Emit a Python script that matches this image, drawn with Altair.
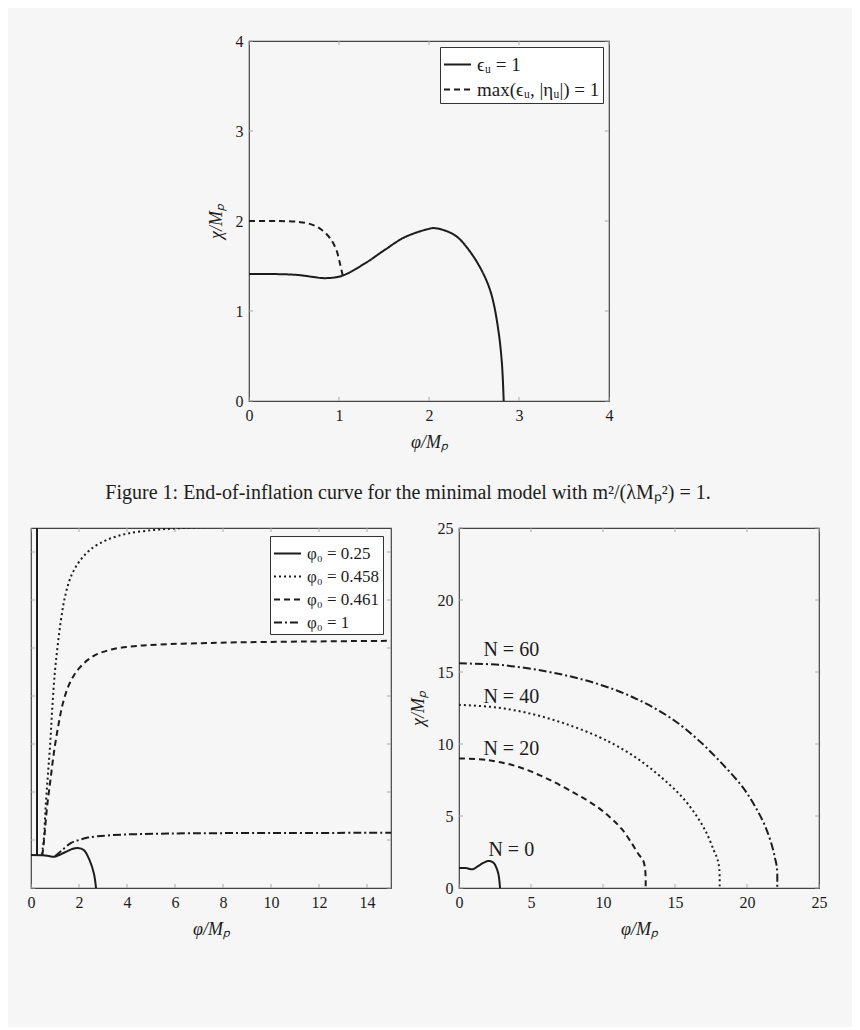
import altair as alt
import pandas as pd

FONT = "Liberation Serif"
INK = "#1c1c1c"
TICK = "#a8a8a8"
BG = "#f6f6f6"
TL = 4

# ---------------- data: top panel (minimal model) ----------------
top_ticks = [0, 1, 2, 3, 4]
top_names = ["ϵᵤ = 1", "max(ϵᵤ, |ηᵤ|) = 1"]
top_eps_phi = [0, 0.3, 0.55, 0.7, 0.84, 1.03, 1.29, 1.51, 1.73, 1.99, 2.07, 2.29, 2.47, 2.62, 2.70, 2.77, 2.81, 2.83]
top_eps_chi = [1.41, 1.41, 1.40, 1.38, 1.365, 1.39, 1.53, 1.68, 1.82, 1.91, 1.92, 1.84, 1.64, 1.38, 1.16, 0.79, 0.42, 0.0]
top_eta_phi = [0, 0.3, 0.55, 0.70, 0.81, 0.90, 0.97, 1.01, 1.04]
top_eta_chi = [2.0, 2.0, 1.99, 1.96, 1.90, 1.81, 1.68, 1.53, 1.40]

# ---------------- data: bottom-left panel (trajectories) ----------------
bl_ticks = [0, 2, 4, 6, 8, 10, 12, 14]
bl_names = ["φ₀ = 0.25", "φ₀ = 0.458", "φ₀ = 0.461", "φ₀ = 1"]
bl_a_phi = [0.25, 0.25]
bl_a_chi = [1.37, 15.5]
bl_b_phi = [0.45, 0.53, 0.61, 0.71, 0.81, 0.89, 0.99, 1.10, 1.25, 1.42, 1.67, 2.02, 2.51, 3.2, 4.04, 5.15, 6.0, 7.0, 8.0]
bl_b_chi = [1.40, 1.99, 3.38, 4.78, 6.17, 7.56, 8.95, 10.0, 11.18, 12.15, 12.99, 13.61, 14.13, 14.52, 14.77, 14.92, 14.98, 15.03, 15.06]
bl_c_phi = [0.47, 0.50, 0.57, 0.67, 0.81, 0.95, 1.13, 1.34, 1.62, 2.0, 2.6, 3.4, 4.46, 5.71, 7.1, 8.21, 11.5, 15.0]
bl_c_chi = [1.37, 1.57, 2.27, 3.38, 4.5, 5.61, 6.72, 7.74, 8.55, 9.15, 9.66, 9.95, 10.09, 10.16, 10.2, 10.23, 10.27, 10.3]
bl_d_phi = [1.0, 1.3, 1.67, 2.0, 2.37, 3.34, 5.7, 10.0, 15.0]
bl_d_chi = [1.32, 1.58, 1.88, 2.0, 2.10, 2.2, 2.27, 2.29, 2.3]
bl_end_phi = [0, 0.5, 0.75, 0.98, 1.4, 1.7, 1.95, 2.2, 2.44, 2.62, 2.71]
bl_end_chi = [1.37, 1.36, 1.33, 1.30, 1.48, 1.62, 1.67, 1.58, 1.16, 0.6, 0.0]

# ---------------- data: bottom-right panel (N e-folds) ----------------
br_ticks = [0, 5, 10, 15, 20, 25]
br_names = ["N = 0", "N = 20", "N = 40", "N = 60"]
br_n0_phi = [0, 0.5, 0.93, 1.3, 1.7, 2.08, 2.4, 2.6, 2.75, 2.85]
br_n0_chi = [1.39, 1.38, 1.30, 1.5, 1.75, 1.88, 1.75, 1.4, 0.9, 0.0]
br_n20_phi = [0, 2, 4, 6, 8, 9.5, 10.5, 11.3, 12.0, 12.5, 12.75, 12.9, 12.96, 12.96]
br_n20_chi = [9.0, 8.88, 8.45, 7.65, 6.6, 5.7, 4.9, 4.1, 3.1, 2.3, 2.0, 1.5, 0.8, 0.0]
br_n40_phi = [0, 2.5, 5, 7.4, 9.7, 11.0, 12.3, 13.5, 14.6, 15.6, 16.5, 17.2, 17.7, 17.95, 18.08, 18.1]
br_n40_chi = [12.72, 12.55, 12.1, 11.4, 10.5, 9.85, 9.05, 8.15, 7.2, 6.2, 5.0, 3.8, 2.6, 2.0, 1.3, 0.0]
br_n60_phi = [0, 3, 6, 8.5, 11, 13, 15, 16.7, 18.3, 19.7, 20.6, 21.3, 21.76, 21.95, 22.08, 22.1]
br_n60_chi = [15.6, 15.48, 15.05, 14.5, 13.7, 12.8, 11.6, 10.2, 8.6, 7.0, 5.6, 4.2, 2.85, 2.05, 1.4, 0.0]
br_label_text = ["N = 60", "N = 40", "N = 20", "N = 0"]
br_label_phi = [3.63, 3.63, 3.63, 3.63]
br_label_chi = [16.5, 13.26, 9.68, 2.66]

caption = "Figure 1: End-of-inflation curve for the minimal model with m²/(λMₚ²) = 1."

SOLID = [1, 0]
DOTTED = [2, 3]
DASHED = [6, 4]
DASHDOT = [8, 3, 2, 3]


def line_df(names, phis, chis):
    rows = []
    for n, xs_, ys_ in zip(names, phis, chis):
        for i, (a, b) in enumerate(zip(xs_, ys_)):
            rows.append({"series": n, "i": i, "phi": a, "chi": b})
    return pd.DataFrame(rows)


def make_axis(title, ticks, labels=True):
    return alt.Axis(values=ticks, title=title, ticks=False, domain=False, grid=False,
                    labels=labels, labelFont=FONT, labelFontSize=16, labelColor=INK,
                    labelPadding=6, labelFlush=False, labelOverlap=False,
                    titleFont=FONT, titleFontSize=18, titleFontWeight="normal",
                    titleFontStyle="italic", titleColor=INK, titlePadding=10)


def tick_layers(xt, yt, xs, ys, xax, yax, w, h):
    tx = pd.DataFrame({"phi": xt})
    ty = pd.DataFrame({"chi": yt})
    st = dict(color=TICK, strokeWidth=1)
    return [
        alt.Chart(tx).mark_rule(**st).encode(x=alt.X("phi:Q", scale=xs, axis=xax),
                                             y=alt.value(h), y2=alt.value(h - TL)),
        alt.Chart(tx).mark_rule(**st).encode(x=alt.X("phi:Q", scale=xs, axis=xax),
                                             y=alt.value(0), y2=alt.value(TL)),
        alt.Chart(ty).mark_rule(**st).encode(y=alt.Y("chi:Q", scale=ys, axis=yax),
                                             x=alt.value(0), x2=alt.value(TL)),
        alt.Chart(ty).mark_rule(**st).encode(y=alt.Y("chi:Q", scale=ys, axis=yax),
                                             x=alt.value(w), x2=alt.value(w - TL)),
    ]


def lines(df, xs, ys, xax, yax, names, dashes, legend):
    return alt.Chart(df).mark_line(color=INK, strokeWidth=2, interpolate="catmull-rom", clip=True).encode(
        x=alt.X("phi:Q", scale=xs, axis=xax),
        y=alt.Y("chi:Q", scale=ys, axis=yax),
        strokeDash=alt.StrokeDash("series:N", scale=alt.Scale(domain=names, range=dashes), legend=legend),
        order=alt.Order("i:Q"),
    )


def make_legend(size, font_size, pad, offset, row_pad):
    return alt.Legend(title=None, orient="top-right", offset=offset, fillColor="white", strokeColor="#333333",
                      padding=pad, symbolType="stroke", symbolStrokeWidth=2, symbolSize=size,
                      symbolStrokeColor=INK, labelFont=FONT, labelFontSize=font_size, labelColor=INK,
                      rowPadding=row_pad, labelOffset=5, cornerRadius=0)


W = 360
H = 360

# ---------------- top panel ----------------
tx_s = alt.Scale(domain=[0, 4], nice=False, zero=False)
ty_s = alt.Scale(domain=[0, 4], nice=False, zero=False)
t_xax = make_axis("φ/Mₚ", top_ticks)
t_yax = make_axis("χ/Mₚ", top_ticks)
top_df = line_df(top_names, [top_eps_phi, top_eta_phi], [top_eps_chi, top_eta_chi])
top_chart = alt.layer(
    *tick_layers(top_ticks, top_ticks, tx_s, ty_s, t_xax, t_yax, W, H),
    lines(top_df, tx_s, ty_s, t_xax, t_yax, top_names, [SOLID, DASHED], make_legend(729, 19, 3, 6, 0)),
).properties(
    width=W, height=H,
    title=alt.TitleParams(text=caption, orient="bottom", anchor="middle", frame="group", dx=-21,
                          offset=32, font=FONT, fontSize=20, fontWeight="normal", color=INK),
)

spacer = alt.Chart(pd.DataFrame({"s": [0]})).mark_point(opacity=0).encode(
    x=alt.value(100), y=alt.value(100)
).properties(width=218, height=H, view=alt.ViewBackground(strokeOpacity=0))

top_row = alt.hconcat(spacer, top_chart, spacing=0, bounds="flush").resolve_scale(
    strokeDash="independent").resolve_legend(strokeDash="independent")

# ---------------- bottom-left panel ----------------
lx_s = alt.Scale(domain=[0, 15], nice=False, zero=False)
ly_s = alt.Scale(domain=[0, 15], nice=False, zero=False)
l_xax = make_axis("φ/Mₚ", bl_ticks)
l_yax = None
bl_df = line_df(bl_names, [bl_a_phi, bl_b_phi, bl_c_phi, bl_d_phi], [bl_a_chi, bl_b_chi, bl_c_chi, bl_d_chi])
bl_end_df = pd.DataFrame({"i": list(range(len(bl_end_phi))), "phi": bl_end_phi, "chi": bl_end_chi})
bl_chart = alt.layer(
    *tick_layers(bl_ticks, bl_ticks, lx_s, ly_s, l_xax, l_yax, W, H),
    alt.Chart(bl_end_df).mark_line(color=INK, strokeWidth=2, interpolate="catmull-rom", clip=True).encode(
        x=alt.X("phi:Q", scale=lx_s, axis=l_xax),
        y=alt.Y("chi:Q", scale=ly_s, axis=l_yax),
        order=alt.Order("i:Q"),
    ),
    lines(bl_df, lx_s, ly_s, l_xax, l_yax, bl_names, [SOLID, DOTTED, DASHED, DASHDOT],
          make_legend(729, 17, 3, 8, 0)),
).properties(width=W, height=H)

# ---------------- bottom-right panel ----------------
rx_s = alt.Scale(domain=[0, 25], nice=False, zero=False)
ry_s = alt.Scale(domain=[0, 25], nice=False, zero=False)
r_xax = make_axis("φ/Mₚ", br_ticks)
r_yax = make_axis("χ/Mₚ", br_ticks)
br_df = line_df(br_names, [br_n0_phi, br_n20_phi, br_n40_phi, br_n60_phi],
                [br_n0_chi, br_n20_chi, br_n40_chi, br_n60_chi])
br_lab = pd.DataFrame({"text": br_label_text, "phi": br_label_phi, "chi": br_label_chi})
br_chart = alt.layer(
    *tick_layers(br_ticks, br_ticks, rx_s, ry_s, r_xax, r_yax, W, H),
    lines(br_df, rx_s, ry_s, r_xax, r_yax, br_names, [SOLID, DASHED, DOTTED, DASHDOT], None),
    alt.Chart(br_lab).mark_text(font=FONT, fontSize=20, color=INK).encode(
        x=alt.X("phi:Q", scale=rx_s, axis=r_xax),
        y=alt.Y("chi:Q", scale=ry_s, axis=r_yax),
        text="text:N",
    ),
).properties(width=W, height=H)

bottom_row = alt.hconcat(bl_chart, br_chart, spacing=68, bounds="flush").resolve_scale(
    strokeDash="independent").resolve_legend(strokeDash="independent")

chart = alt.vconcat(top_row, bottom_row, spacing=15).resolve_scale(
    strokeDash="independent").resolve_legend(strokeDash="independent").properties(
    padding={"left": 18, "top": 24, "right": 24, "bottom": 88},
    background=BG,
).configure_view(stroke="#444444", strokeWidth=1.2)

chart.save("out.html", embed_options={"renderer": "svg", "actions": False})
